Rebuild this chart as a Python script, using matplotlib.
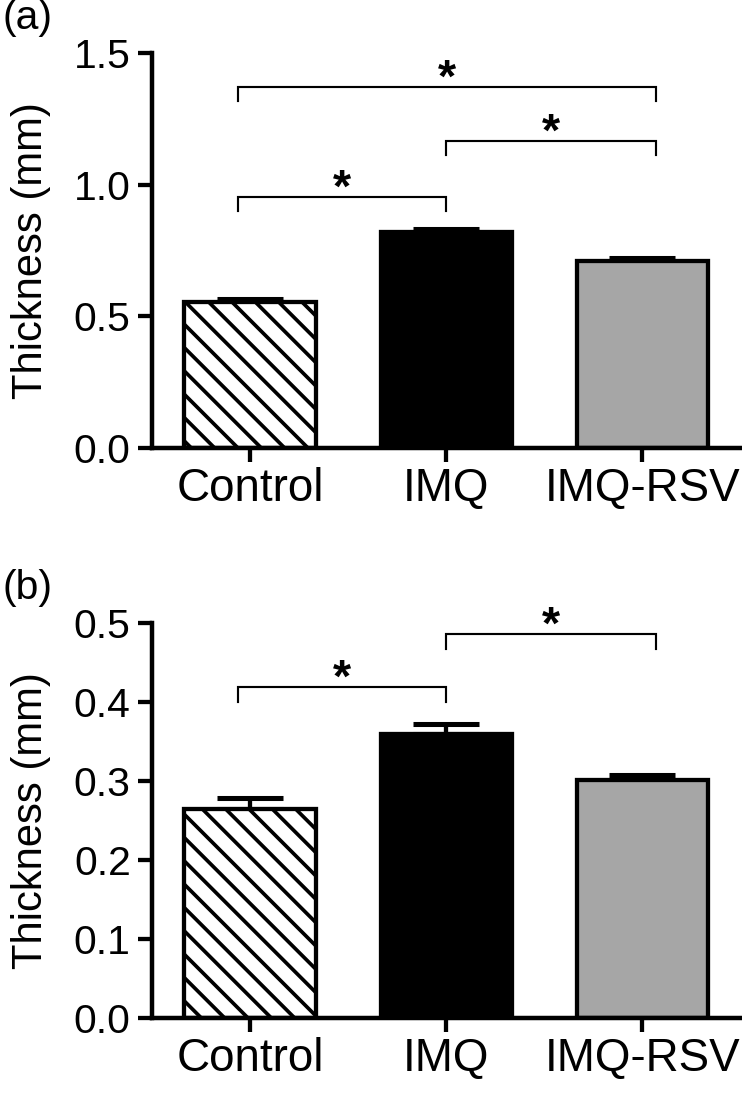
import matplotlib.pyplot as plt
import numpy as np

plt.rcParams['font.family'] = ['Liberation Sans', 'DejaVu Sans']
plt.rcParams['hatch.linewidth'] = 1.9

groups = ['Control', 'IMQ', 'IMQ-RSV']

# panel (a)
a_mean = [0.553, 0.818, 0.708]
a_sem = [0.012, 0.013, 0.012]
# panel (b)
b_mean = [0.265, 0.359, 0.301]
b_sem = [0.014, 0.013, 0.007]

# significance brackets: (group i, group j, height, drop)
a_brackets = [(0, 1, 0.953, 0.053), (1, 2, 1.165, 0.053), (0, 2, 1.37, 0.053)]
b_brackets = [(0, 1, 0.419, 0.019), (1, 2, 0.486, 0.019)]
# small offsets of the bracket feet from the group centres
foot_shift = [-0.06, 0.0, 0.07]

fills = ['white', 'black', '#a6a6a6']
hatches = ['\\\\', None, None]

fig = plt.figure(figsize=(742 / 140, 1095 / 140), dpi=140)
ax1 = fig.add_axes([0.205, 0.591, 0.793, 0.3607])
ax2 = fig.add_axes([0.205, 0.0703, 0.793, 0.3607])


def draw_panel(ax, mean, sem, brackets, ymax, yticks, letter):
    x = np.arange(len(groups))
    ax.errorbar(x, mean, yerr=[np.zeros(len(sem)), sem], fmt='none',
                ecolor='black', elinewidth=2.2, capsize=17, capthick=2.6,
                zorder=1)
    for i in range(len(groups)):
        ax.bar(x[i], mean[i], width=0.67, color=fills[i], edgecolor='black',
               linewidth=2.2, hatch=hatches[i], zorder=2)
    for i, j, h, d in brackets:
        x0 = i + foot_shift[i]
        x1 = j + foot_shift[j]
        ax.plot([x0, x0, x1, x1], [h - d, h, h, h - d], color='black',
                lw=1.1, solid_joinstyle='miter', clip_on=False)
        ax.annotate('*', xy=((x0 + x1) / 2, h), xytext=(0, -7.5),
                    textcoords='offset points', ha='center', va='bottom',
                    fontsize=24, fontweight='bold', annotation_clip=False)
    ax.set_xlim(-0.5, 2.5)
    ax.set_ylim(0, ymax)
    ax.set_yticks(yticks)
    ax.set_yticklabels(['%.1f' % t for t in yticks])
    ax.set_xticks(x)
    ax.set_xticklabels(groups)
    for s in ['top', 'right']:
        ax.spines[s].set_visible(False)
    for s in ['left', 'bottom']:
        ax.spines[s].set_linewidth(2.3)
    ax.tick_params(axis='both', width=2.2, length=7, labelsize=21, pad=4)
    ax.tick_params(axis='x', labelsize=23.5, pad=3)
    ax.set_ylabel('Thickness (mm)', fontsize=21.5, labelpad=12)
    # panel letter, placed in figure coordinates just above the axes
    top = ax.get_position().y1
    fig.text(0.004, top + 35 / 1095, letter, fontsize=21,
             ha='left', va='center')


draw_panel(ax1, a_mean, a_sem, a_brackets, 1.5, [0.0, 0.5, 1.0, 1.5], '(a)')
draw_panel(ax2, b_mean, b_sem, b_brackets, 0.5,
           [0.0, 0.1, 0.2, 0.3, 0.4, 0.5], '(b)')

fig.savefig('out.png', dpi=140)
